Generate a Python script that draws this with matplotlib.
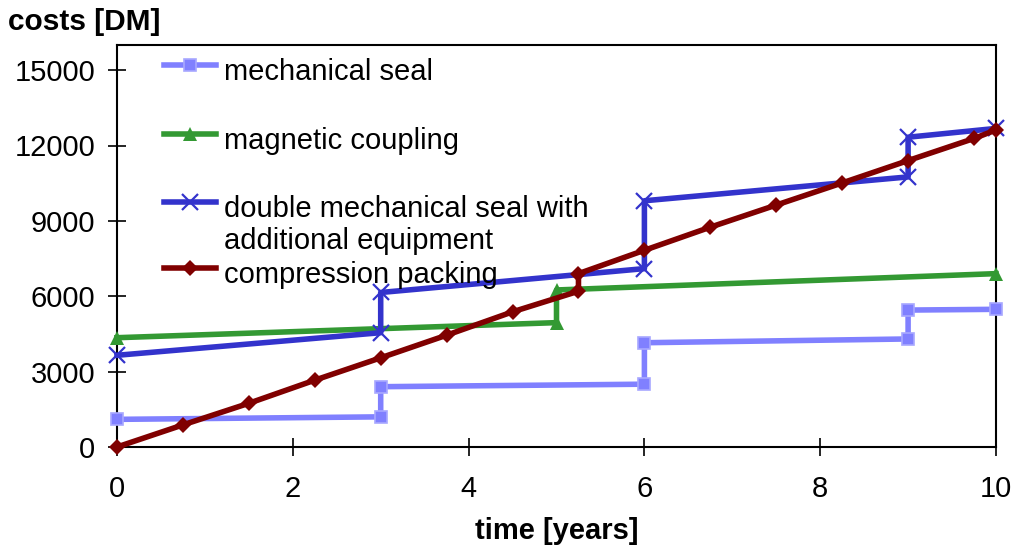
import matplotlib
matplotlib.use("Agg")
import matplotlib.pyplot as plt

plt.rcParams['font.family'] = ['Liberation Sans', 'DejaVu Sans']

# ---- data ----
mech_x = [0, 3, 3, 6, 6, 9, 9, 10]
mech_y = [1100, 1200, 2400, 2500, 4150, 4300, 5450, 5480]

magn_x = [0, 5, 5, 10]
magn_y = [4350, 4950, 6250, 6900]

double_x = [0, 3, 3, 6, 6, 9, 9, 10]
double_y = [3650, 4550, 6150, 7100, 9800, 10750, 12330, 12680]

comp_x = [0, 0.75, 1.5, 2.25, 3, 3.75, 4.5, 5.25, 5.25, 6, 6.75, 7.5, 8.25, 9, 9.75, 10]
comp_y = [0, 880, 1740, 2660, 3550, 4450, 5380, 6200, 6900, 7830, 8750, 9630, 10510, 11400, 12280, 12620]

x_ticks = [0, 2, 4, 6, 8, 10]
y_ticks = [0, 3000, 6000, 9000, 12000, 15000]

labels = ["mechanical seal", "magnetic coupling",
          "double mechanical seal with\nadditional equipment", "compression packing"]

# ---- styles ----
styles = [
    dict(color="#8080FF", marker="s", markersize=8.5, markerfacecolor="#8080FF",
         markeredgecolor="#A8A8FF", markeredgewidth=1.2),
    dict(color="#339933", marker="^", markersize=10.5, markeredgewidth=0),
    dict(color="#3333CC", marker="x", markersize=11, markeredgewidth=1.6),
    dict(color="#800000", marker="D", markersize=8.5, markeredgewidth=0),
]
FS = 21

fig = plt.figure(figsize=(10.15, 5.52), dpi=100)
ax = fig.add_axes([117 / 1015, 1 - 447 / 552, 879 / 1015, 402 / 552])

series = [(mech_x, mech_y), (magn_x, magn_y), (double_x, double_y), (comp_x, comp_y)]
for (xs, ys), st in zip(series, styles):
    ax.plot(xs, ys, linewidth=4, clip_on=False, zorder=3, **st)

ax.set_xlim(0, 10)
ax.set_ylim(0, 16000)
ax.set_xticks(x_ticks)
ax.set_yticks(y_ticks)
ax.tick_params(axis="both", direction="inout", length=13, width=1.2, labelsize=FS)
ax.tick_params(axis="x", pad=14)
ax.tick_params(axis="y", pad=9)
for sp in ax.spines.values():
    sp.set_linewidth(1.5)

ax.set_xlabel("time [years]", fontsize=FS, fontweight="bold", labelpad=10)
fig.text(8 / 1015, 1 - 22 / 552, "costs [DM]", fontsize=FS + 0.5, fontweight="bold",
         ha="left", va="center")

# ---- manual legend (handle sits on the first text line) ----
hx0, hx1, tx = 0.0535, 0.1126, 0.1217
hy = [0.950, 0.779, 0.609, 0.445]
for y, lab, st in zip(hy, labels, styles):
    ax.plot([hx0, (hx0 + hx1) / 2, hx1], [y, y, y], transform=ax.transAxes,
            linewidth=4, markevery=[1], clip_on=False, zorder=4, **st)
    ax.text(tx, y + 0.018, lab, transform=ax.transAxes, fontsize=FS,
            ha="left", va="top", linespacing=1.2)

fig.savefig("out.png", dpi=100)
